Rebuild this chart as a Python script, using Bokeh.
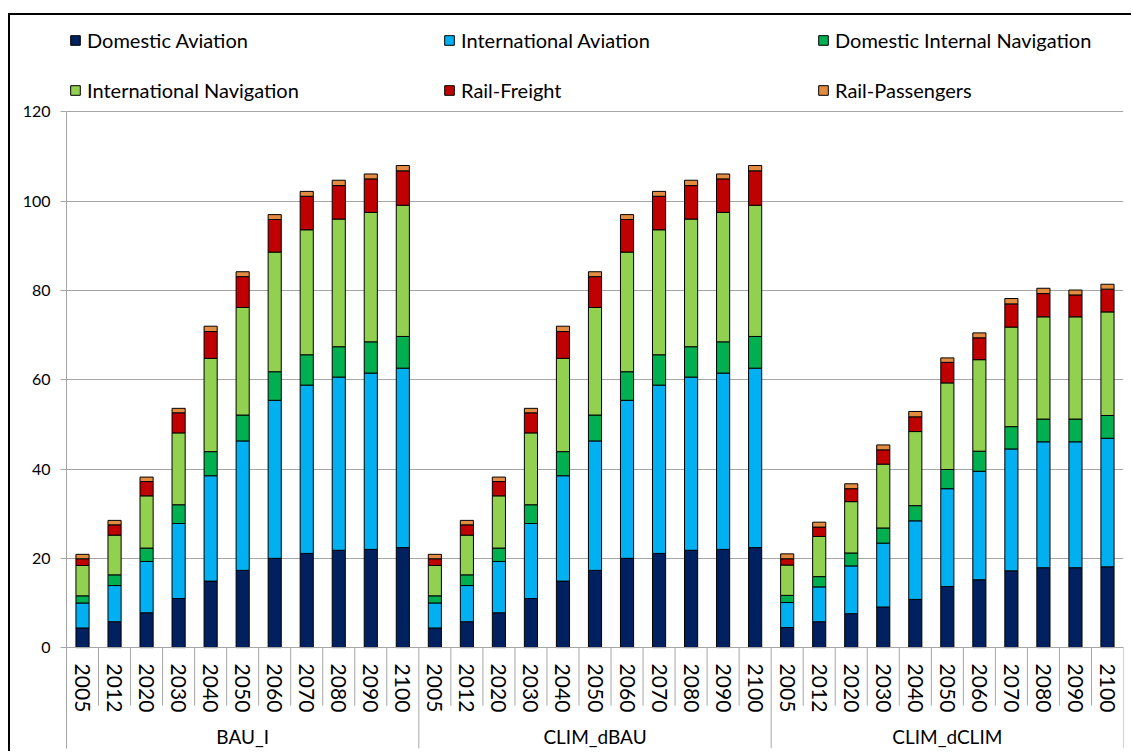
from bokeh.plotting import figure
from bokeh.models import FactorRange, Range1d, FixedTicker, Legend, LegendItem, ColumnDataSource
from bokeh.embed import file_html
from bokeh.resources import INLINE

groups = ["BAU_I", "CLIM_dBAU", "CLIM_dCLIM"]
years = ["2005", "2012", "2020", "2030", "2040", "2050", "2060", "2070", "2080", "2090", "2100"]
series = ["Domestic Aviation", "International Aviation", "Domestic Internal Navigation",
          "International Navigation", "Rail-Freight", "Rail-Passengers"]
colors = ["#002060", "#00B0F0", "#00B050", "#92D050", "#C00000", "#E38B40"]
y_ticks = [0, 20, 40, 60, 80, 100, 120]

# segment values per scenario, one list per series (years 2005..2100)
bau_domestic_aviation = [4.4, 5.8, 7.8, 11.0, 14.9, 17.3, 20.0, 21.1, 21.8, 22.0, 22.4]
bau_international_aviation = [5.6, 8.1, 11.5, 16.8, 23.6, 29.0, 35.4, 37.7, 38.8, 39.5, 40.2]
bau_domestic_navigation = [1.6, 2.4, 3.0, 4.2, 5.4, 5.8, 6.4, 6.8, 6.8, 7.0, 7.1]
bau_international_navigation = [6.8, 8.9, 11.7, 16.1, 20.9, 24.1, 26.8, 28.0, 28.6, 29.0, 29.4]
bau_rail_freight = [1.5, 2.3, 3.2, 4.5, 6.0, 6.9, 7.3, 7.5, 7.5, 7.5, 7.7]
bau_rail_passengers = [1.0, 1.0, 1.0, 1.0, 1.2, 1.1, 1.1, 1.1, 1.2, 1.1, 1.2]

dbau_domestic_aviation = [4.4, 5.8, 7.8, 11.0, 14.9, 17.3, 20.0, 21.1, 21.8, 22.0, 22.4]
dbau_international_aviation = [5.6, 8.1, 11.5, 16.8, 23.6, 29.0, 35.4, 37.7, 38.8, 39.5, 40.2]
dbau_domestic_navigation = [1.6, 2.4, 3.0, 4.2, 5.4, 5.8, 6.4, 6.8, 6.8, 7.0, 7.1]
dbau_international_navigation = [6.8, 8.9, 11.7, 16.1, 20.9, 24.1, 26.8, 28.0, 28.6, 29.0, 29.4]
dbau_rail_freight = [1.5, 2.3, 3.2, 4.5, 6.0, 6.9, 7.3, 7.5, 7.5, 7.5, 7.7]
dbau_rail_passengers = [1.0, 1.0, 1.0, 1.0, 1.2, 1.1, 1.1, 1.1, 1.2, 1.1, 1.2]

dclim_domestic_aviation = [4.5, 5.8, 7.6, 9.1, 10.8, 13.7, 15.2, 17.2, 17.9, 17.9, 18.1]
dclim_international_aviation = [5.6, 7.8, 10.7, 14.3, 17.6, 21.9, 24.3, 27.3, 28.2, 28.2, 28.8]
dclim_domestic_navigation = [1.6, 2.3, 2.9, 3.4, 3.4, 4.3, 4.5, 5.0, 5.1, 5.1, 5.1]
dclim_international_navigation = [6.8, 9.0, 11.5, 14.3, 16.6, 19.4, 20.5, 22.3, 22.9, 22.9, 23.2]
dclim_rail_freight = [1.4, 2.1, 2.9, 3.2, 3.3, 4.6, 4.9, 5.2, 5.2, 4.9, 5.1]
dclim_rail_passengers = [1.1, 1.1, 1.1, 1.1, 1.2, 1.0, 1.1, 1.2, 1.2, 1.1, 1.1]

scenario_data = [
    [bau_domestic_aviation, bau_international_aviation, bau_domestic_navigation,
     bau_international_navigation, bau_rail_freight, bau_rail_passengers],
    [dbau_domestic_aviation, dbau_international_aviation, dbau_domestic_navigation,
     dbau_international_navigation, dbau_rail_freight, dbau_rail_passengers],
    [dclim_domestic_aviation, dclim_international_aviation, dclim_domestic_navigation,
     dclim_international_navigation, dclim_rail_freight, dclim_rail_passengers],
]

FONT = "Lato"
GRID = "#A6A6A6"

factors = [(g, y) for g in groups for y in years]
data = {"x": factors}
for si, s in enumerate(series):
    col = []
    for gi in range(len(groups)):
        col.extend(scenario_data[gi][si])
    data[s] = col
source = ColumnDataSource(data)

Y_BOTTOM = -22.6
Y_TOP = 141.6   # room above the 120 gridline for the legend
x_range = FactorRange(*factors, factor_padding=0, group_padding=0, range_padding=0)
p = figure(x_range=x_range, y_range=Range1d(Y_BOTTOM, Y_TOP), title=None,
           width=1123, height=738, output_backend="svg", toolbar_location=None,
           min_border_left=56, min_border_right=10, min_border_top=0, min_border_bottom=5)
p.styles = {"margin-left": "8px", "margin-top": "13px",
            "border-left": "2px solid black", "border-top": "2px solid black"}
p.outline_line_color = None
p.background_fill_color = "white"

renderers = p.vbar_stack(series, x="x", width=0.41, source=source, color=colors,
                         line_color="black", line_width=1)

# category separators below the axis
n = len(factors)
bx = list(range(n + 1))
short_x = [b for b in bx if b % len(years) != 0]
long_x = [b for b in bx if b % len(years) == 0]
p.segment(x0=short_x, y0=[0] * len(short_x), x1=short_x, y1=[-13.0] * len(short_x),
          line_color=GRID, line_width=1)
p.segment(x0=long_x, y0=[0] * len(long_x), x1=long_x, y1=[Y_BOTTOM] * len(long_x),
          line_color=GRID, line_width=1)

# y axis
p.yaxis.ticker = FixedTicker(ticks=y_ticks)
p.yaxis.bounds = (Y_BOTTOM, 120)
p.yaxis.axis_line_color = GRID
p.yaxis.major_tick_line_color = GRID
p.yaxis.major_tick_out = 6
p.yaxis.major_tick_in = 0
p.yaxis.minor_tick_line_color = None
p.yaxis.major_label_text_font = FONT
p.yaxis.major_label_text_font_size = "16px"
p.yaxis.major_label_text_color = "black"
p.yaxis.major_label_standoff = 10

p.ygrid.ticker = FixedTicker(ticks=y_ticks)
p.ygrid.grid_line_color = GRID
p.xgrid.grid_line_color = None

# x axis at zero
xa = p.xaxis[0]
xa.fixed_location = 0
xa.axis_line_color = GRID
xa.major_tick_line_color = None
xa.minor_tick_line_color = None
xa.major_label_orientation = "vertical"
xa.major_label_text_font = FONT
xa.major_label_text_font_size = "21px"
xa.major_label_text_color = "black"
xa.major_label_standoff = 10
xa.group_text_font = FONT
xa.group_text_font_size = "19px"
xa.group_text_color = "black"
xa.group_text_font_style = "normal"
xa.separator_line_color = None

legend = Legend(items=[LegendItem(label=s, renderers=[r]) for s, r in zip(series, renderers)],
                orientation="horizontal", ncols=3, location=(3, 646),
                glyph_width=12, glyph_height=12, label_standoff=6, label_width=330,
                spacing=26, padding=0, margin=0,
                label_text_font=FONT, label_text_font_size="20px", label_text_color="black",
                border_line_color=None, background_fill_alpha=0)
p.add_layout(legend, "center")

open("out.html", "w").write(file_html(p, INLINE))
